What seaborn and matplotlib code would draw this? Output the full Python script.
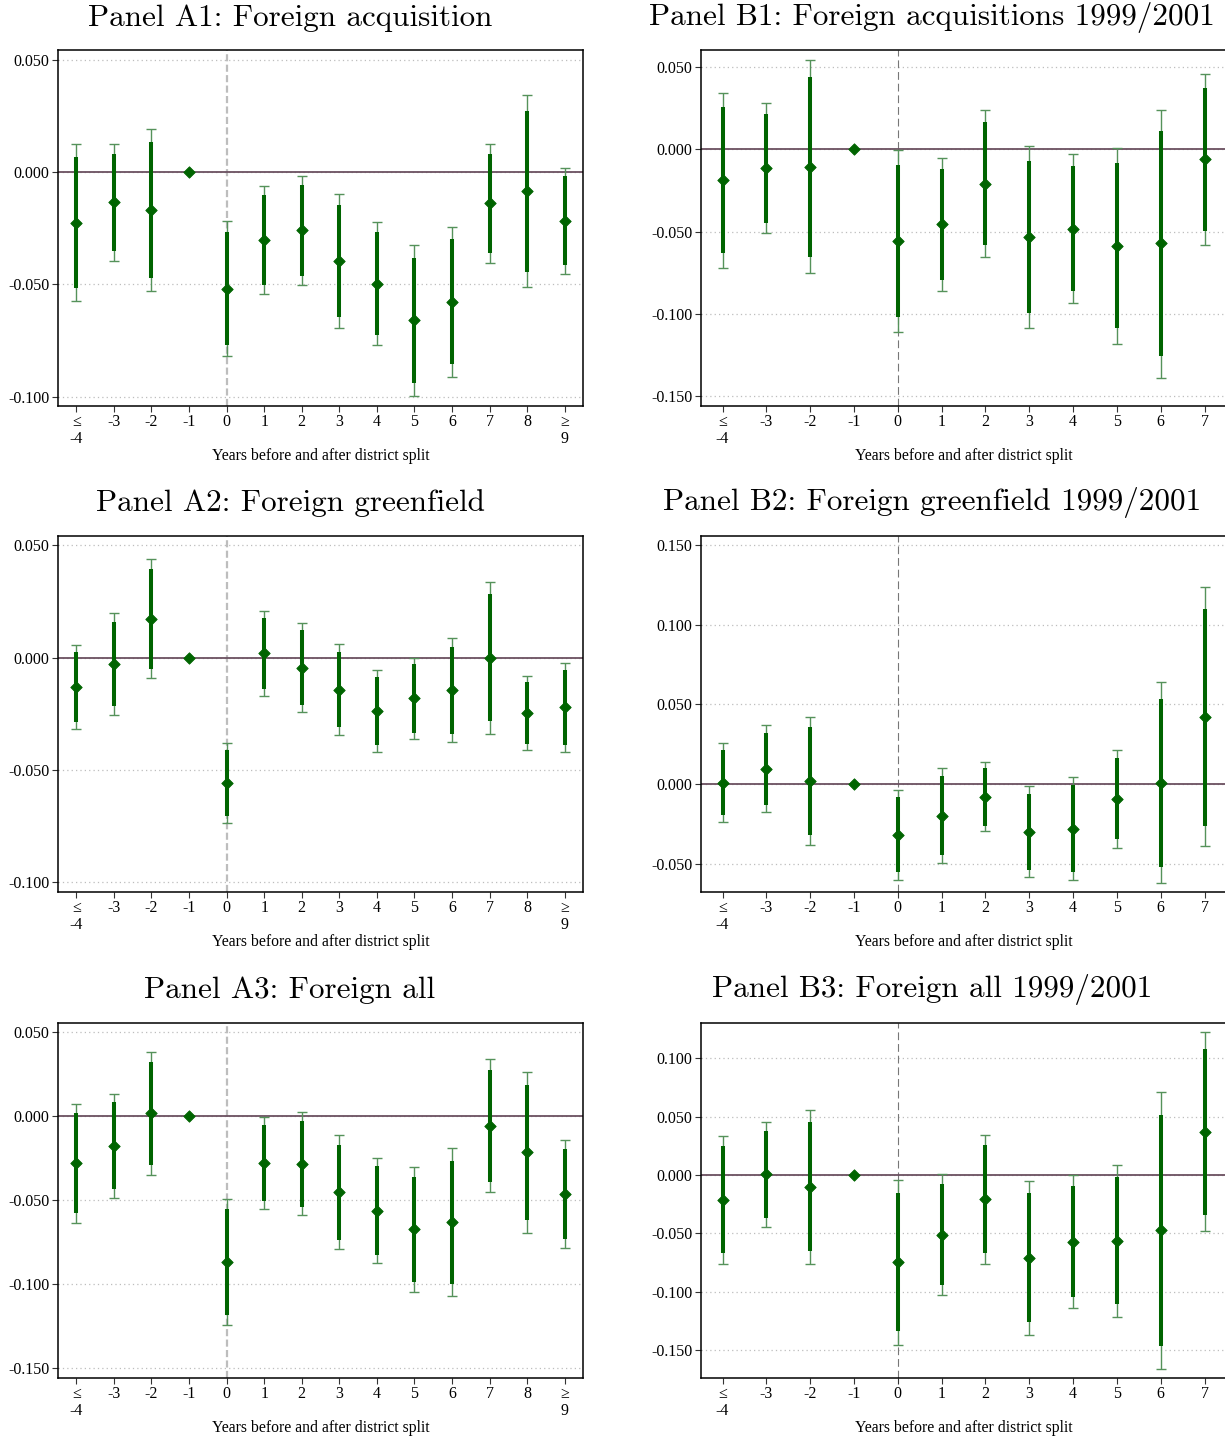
"""
Event-study plots: foreign entry around district splits (panels A1-A3, B1-B3)
"""
import numpy as np
import matplotlib
matplotlib.use("Agg")
import matplotlib.pyplot as plt
from matplotlib.ticker import FormatStrFormatter
import seaborn as sns

sns.set_style("white")
plt.rcParams["font.family"] = ["Liberation Serif", "DejaVu Serif"]
plt.rcParams["axes.unicode_minus"] = False
for k in ["text.color", "axes.labelcolor", "xtick.color", "ytick.color"]:
    plt.rcParams[k] = "black"

DKGREEN = "#006400"
LTGREEN = "#55925a"

# event time, -4 means "<= -4", 9 means ">= 9"
YEARS_A = [-4, -3, -2, -1, 0, 1, 2, 3, 4, 5, 6, 7, 8, 9]
YEARS_B = [-4, -3, -2, -1, 0, 1, 2, 3, 4, 5, 6, 7]   # visible part of the B panels
XTICKLABELS = ["≤\n-4", "-3", "-2", "-1", "0", "1", "2", "3", "4", "5", "6", "7", "8", "≥\n9"]

# --- Panel A1: Foreign acquisition ---
A1_est = [-0.0226, -0.0135, -0.0168, 0.0, -0.0521, -0.0303, -0.0260, -0.0396, -0.0497, -0.0660, -0.0579, -0.0139, -0.0086, -0.0217]
A1_hi90 = [0.0065, 0.0082, 0.0132, None, -0.0269, -0.0102, -0.0058, -0.0148, -0.0267, -0.0381, -0.0298, 0.0082, 0.0272, -0.0019]
A1_lo90 = [-0.0518, -0.0352, -0.0470, None, -0.0772, -0.0503, -0.0461, -0.0645, -0.0727, -0.0939, -0.0856, -0.0362, -0.0444, -0.0414]
A1_hi95 = [0.0123, 0.0126, 0.0191, None, -0.0220, -0.0062, -0.0018, -0.0099, -0.0223, -0.0326, -0.0246, 0.0126, 0.0341, 0.0019]
A1_lo95 = [-0.0574, -0.0395, -0.0528, None, -0.0820, -0.0543, -0.0503, -0.0694, -0.0772, -0.0996, -0.0911, -0.0407, -0.0512, -0.0453]

# --- Panel A2: Foreign greenfield ---
A2_est = [-0.0129, -0.0030, 0.0174, 0.0, -0.0558, 0.0019, -0.0046, -0.0142, -0.0239, -0.0181, -0.0144, 0.0, -0.0246, -0.0221]
A2_hi90 = [0.0025, 0.0159, 0.0396, None, -0.0411, 0.0177, 0.0122, 0.0025, -0.0086, -0.0028, 0.0049, 0.0283, -0.0110, -0.0056]
A2_lo90 = [-0.0286, -0.0217, -0.0049, None, -0.0705, -0.0138, -0.0212, -0.0310, -0.0390, -0.0334, -0.0338, -0.0283, -0.0383, -0.0387]
A2_hi95 = [0.0058, 0.0197, 0.0439, None, -0.0381, 0.0209, 0.0156, 0.0059, -0.0056, 0.0001, 0.0088, 0.0338, -0.0082, -0.0022]
A2_lo95 = [-0.0316, -0.0255, -0.0092, None, -0.0734, -0.0171, -0.0243, -0.0344, -0.0421, -0.0364, -0.0377, -0.0338, -0.0409, -0.0420]

# --- Panel A3: Foreign all ---
A3_est = [-0.0279, -0.0176, 0.0016, 0.0, -0.0869, -0.0277, -0.0283, -0.0453, -0.0562, -0.0673, -0.0632, -0.0057, -0.0216, -0.0463]
A3_hi90 = [0.0016, 0.0083, 0.0323, None, -0.0552, -0.0050, -0.0028, -0.0170, -0.0299, -0.0362, -0.0265, 0.0273, 0.0186, -0.0198]
A3_lo90 = [-0.0576, -0.0436, -0.0293, None, -0.1182, -0.0505, -0.0539, -0.0737, -0.0824, -0.0984, -0.1000, -0.0390, -0.0618, -0.0733]
A3_hi95 = [0.0075, 0.0133, 0.0382, None, -0.0491, -0.0004, 0.0024, -0.0115, -0.0248, -0.0303, -0.0190, 0.0339, 0.0265, -0.0141]
A3_lo95 = [-0.0638, -0.0487, -0.0352, None, -0.1244, -0.0550, -0.0590, -0.0792, -0.0875, -0.1044, -0.1071, -0.0453, -0.0697, -0.0786]

# --- Panel B1: Foreign acquisitions 1999/2001 ---
B1_est = [-0.0190, -0.0117, -0.0107, 0.0, -0.0558, -0.0457, -0.0210, -0.0535, -0.0483, -0.0588, -0.0572, -0.0063]
B1_hi90 = [0.0253, 0.0210, 0.0438, None, -0.0097, -0.0121, 0.0166, -0.0071, -0.0101, -0.0087, 0.0109, 0.0368]
B1_lo90 = [-0.0632, -0.0446, -0.0653, None, -0.1016, -0.0794, -0.0582, -0.0996, -0.0861, -0.1087, -0.1253, -0.0497]
B1_hi95 = [0.0341, 0.0277, 0.0543, None, -0.0006, -0.0055, 0.0236, 0.0016, -0.0030, 0.0008, 0.0240, 0.0455]
B1_lo95 = [-0.0719, -0.0511, -0.0754, None, -0.1107, -0.0861, -0.0657, -0.1085, -0.0935, -0.1182, -0.1386, -0.0580]

# --- Panel B2: Foreign greenfield 1999/2001 ---
B2_est = [0.0008, 0.0096, 0.0017, 0.0, -0.0320, -0.0199, -0.0079, -0.0299, -0.0282, -0.0092, 0.0008, 0.0420]
B2_hi90 = [0.0213, 0.0322, 0.0356, None, -0.0082, 0.0052, 0.0100, -0.0061, -0.0008, 0.0163, 0.0536, 0.1100]
B2_lo90 = [-0.0197, -0.0130, -0.0320, None, -0.0554, -0.0448, -0.0262, -0.0540, -0.0552, -0.0347, -0.0521, -0.0262]
B2_hi95 = [0.0257, 0.0368, 0.0420, None, -0.0036, 0.0100, 0.0138, -0.0015, 0.0042, 0.0213, 0.0638, 0.1236]
B2_lo95 = [-0.0236, -0.0174, -0.0385, None, -0.0603, -0.0498, -0.0297, -0.0586, -0.0603, -0.0400, -0.0619, -0.0391]

# --- Panel B3: Foreign all 1999/2001 ---
B3_est = [-0.0211, 0.0009, -0.0100, 0.0, -0.0748, -0.0511, -0.0208, -0.0708, -0.0571, -0.0565, -0.0474, 0.0371]
B3_hi90 = [0.0248, 0.0380, 0.0451, None, -0.0154, -0.0077, 0.0254, -0.0154, -0.0097, -0.0020, 0.0519, 0.1084]
B3_lo90 = [-0.0671, -0.0365, -0.0654, None, -0.1341, -0.0945, -0.0671, -0.1261, -0.1047, -0.1110, -0.1464, -0.0342]
B3_hi95 = [0.0337, 0.0457, 0.0559, None, -0.0040, 0.0006, 0.0345, -0.0049, -0.0003, 0.0086, 0.0716, 0.1227]
B3_lo95 = [-0.0762, -0.0442, -0.0762, None, -0.1455, -0.1027, -0.0762, -0.1370, -0.1139, -0.1216, -0.1661, -0.0479]


def f(v):
    return np.array(v, dtype=float)


def draw_panel(ax, years, est, lo90, hi90, lo95, hi95, ylim, yticks, vstyle):
    x = f(years)
    est, lo90, hi90, lo95, hi95 = f(est), f(lo90), f(hi90), f(lo95), f(hi95)

    ax.set_xlim(years[0] - 0.5, years[-1] + 0.5)
    ax.set_ylim(*ylim)
    ax.set_yticks(yticks)
    ax.yaxis.set_major_formatter(FormatStrFormatter("%.3f"))
    ax.set_xticks(years)
    ax.set_xticklabels(XTICKLABELS[:len(years)], linespacing=1.05)

    ax.grid(axis="y", ls=(0, (1, 2.5)), color="#bdbdbd", lw=0.9, zorder=0)
    ax.grid(axis="x", visible=False)

    if vstyle == "A":
        ax.axvline(0, color="#bdbdbd", lw=1.6, ls=(0, (3.2, 1.5)), zorder=1)
    else:
        ax.axvline(0, color="#777777", lw=0.8, ls=(0, (7, 3.5)), zorder=1)
    ax.axhline(0, color="#6b5060", lw=1.3, zorder=2)

    # 95% interval: thin light bars with caps
    ax.errorbar(x, est, yerr=[est - lo95, hi95 - est], fmt="none",
                ecolor=LTGREEN, elinewidth=1.0, capsize=3.3, capthick=1.0, zorder=3)
    # 90% interval: thick dark bars
    ax.vlines(x, lo90, hi90, color=DKGREEN, lw=2.9, zorder=4)
    sns.scatterplot(x=x, y=est, ax=ax, marker="D", s=34, color=DKGREEN,
                    edgecolor=DKGREEN, linewidth=0.6, zorder=5, legend=False)

    ax.set_xlabel("Years before and after district split", fontsize=11.3, labelpad=1)
    ax.set_ylabel("")
    ax.tick_params(axis="both", which="both", direction="out", length=4,
                   width=0.8, labelsize=11.5, pad=2, bottom=True, left=True, color="#333333")
    for s in ax.spines.values():
        s.set_visible(True)
        s.set_color("black")
        s.set_linewidth(1.1)


W, H = 1225, 1437
fig = plt.figure(figsize=(W / 100, H / 100), dpi=100)
fig.patch.set_facecolor("white")


def add_axes(left_px, right_px, top_px, bottom_px):
    return fig.add_axes([left_px / W, 1 - bottom_px / H,
                         (right_px - left_px) / W, (bottom_px - top_px) / H])


rows = [(50, 406), (536, 892), (1023, 1378)]

panels_a = [
    ("Panel A1: Foreign acquisition", A1_est, A1_lo90, A1_hi90, A1_lo95, A1_hi95,
     (-0.1042, 0.0543), [-0.10, -0.05, 0.0, 0.05], 26.5),
    ("Panel A2: Foreign greenfield", A2_est, A2_lo90, A2_hi90, A2_lo95, A2_hi95,
     (-0.1043, 0.0542), [-0.10, -0.05, 0.0, 0.05], 511),
    ("Panel A3: Foreign all", A3_est, A3_lo90, A3_hi90, A3_lo95, A3_hi95,
     (-0.1558, 0.0554), [-0.15, -0.10, -0.05, 0.0, 0.05], 998),
]
panels_b = [
    ("Panel B1: Foreign acquisitions 1999/2001", B1_est, B1_lo90, B1_hi90, B1_lo95, B1_hi95,
     (-0.1558, 0.0601), [-0.15, -0.10, -0.05, 0.0, 0.05], 25),
    ("Panel B2: Foreign greenfield 1999/2001", B2_est, B2_lo90, B2_hi90, B2_lo95, B2_hi95,
     (-0.0678, 0.1556), [-0.05, 0.0, 0.05, 0.10, 0.15], 510),
    ("Panel B3: Foreign all 1999/2001", B3_est, B3_lo90, B3_hi90, B3_lo95, B3_hi95,
     (-0.1741, 0.1304), [-0.15, -0.10, -0.05, 0.0, 0.05, 0.10], 997),
]

for (top, bottom), p in zip(rows, panels_a):
    title, est, lo90, hi90, lo95, hi95, ylim, yticks, ty = p
    ax = add_axes(57.6, 583.4, top, bottom)
    draw_panel(ax, YEARS_A, est, lo90, hi90, lo95, hi95, ylim, yticks, "A")
    fig.text(290 / W, 1 - ty / H, title, family="cmr10", fontsize=22.4,
             ha="center", va="baseline", color="black")

for (top, bottom), p in zip(rows, panels_b):
    title, est, lo90, hi90, lo95, hi95, ylim, yticks, ty = p
    ax = add_axes(700.6, 1226.5, top, bottom)
    draw_panel(ax, YEARS_B, est, lo90, hi90, lo95, hi95, ylim, yticks, "B")
    fig.text(932 / W, 1 - ty / H, title, family="cmr10", fontsize=22.4,
             ha="center", va="baseline", color="black")

fig.savefig("out.png", dpi=100, facecolor="white")
